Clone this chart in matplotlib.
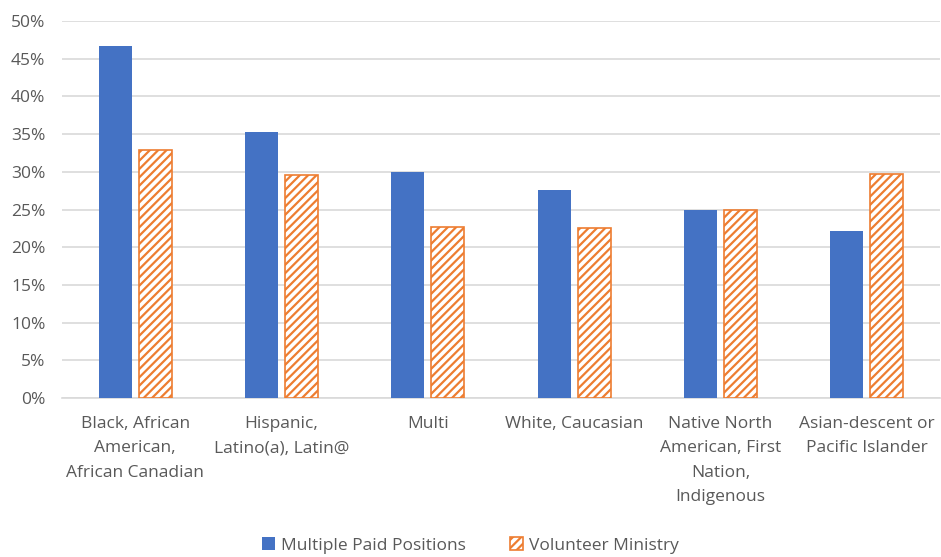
import numpy as np
import matplotlib.pyplot as plt
from matplotlib.ticker import PercentFormatter

categories = [
    "Black, African\nAmerican,\nAfrican Canadian",
    "Hispanic,\nLatino(a), Latin@",
    "Multi",
    "White, Caucasian",
    "Native North\nAmerican, First\nNation,\nIndigenous",
    "Asian-descent or\nPacific Islander",
]
paid = [46.7, 35.3, 30.0, 27.6, 25.0, 22.1]
volunteer = [32.9, 29.6, 22.7, 22.5, 25.0, 29.7]

blue = "#4472C4"
orange = "#ED7D31"
grey = "#595959"

plt.rcParams["font.family"] = ["Open Sans", "DejaVu Sans"]
plt.rcParams["hatch.linewidth"] = 1.6

fig = plt.figure(figsize=(9.41, 5.57), dpi=100)
ax = fig.add_axes([62 / 941, 1 - 398 / 557, 878 / 941, 377 / 557])

x = np.arange(len(categories))
w = 0.225
gap = 0.025
ax.bar(x - w / 2 - gap, paid, width=w, color=blue, label="Multiple Paid Positions", zorder=3)
ax.bar(x + w / 2 + gap, volunteer, width=w, facecolor="white", edgecolor=orange,
       hatch="////", linewidth=1.2, label="Volunteer Ministry", zorder=3)

ax.set_xlim(-0.5, len(categories) - 0.5)
ax.set_ylim(0, 50)
ax.set_yticks(np.arange(0, 51, 5))
ax.yaxis.set_major_formatter(PercentFormatter(decimals=0))
ax.grid(axis="y", color="#D9D9D9", linewidth=1.2, zorder=0)
ax.set_xticks(x)
ax.set_xticklabels(categories, fontsize=12.5, color=grey, linespacing=1.7, va="top")
ax.tick_params(axis="y", labelsize=12.5, labelcolor=grey, length=0, pad=12)
ax.tick_params(axis="x", length=0, pad=13)
for s in ["top", "right", "left"]:
    ax.spines[s].set_visible(False)
ax.spines["bottom"].set_color("#D9D9D9")
ax.spines["bottom"].set_linewidth(1.2)

fig.legend(loc="lower center", bbox_to_anchor=(0.5, -0.022), ncol=2, frameon=False,
           fontsize=12.5, labelcolor=grey, handlelength=0.75, handleheight=0.75,
           handletextpad=0.35, columnspacing=2.5)

fig.savefig("out.png", dpi=100)
